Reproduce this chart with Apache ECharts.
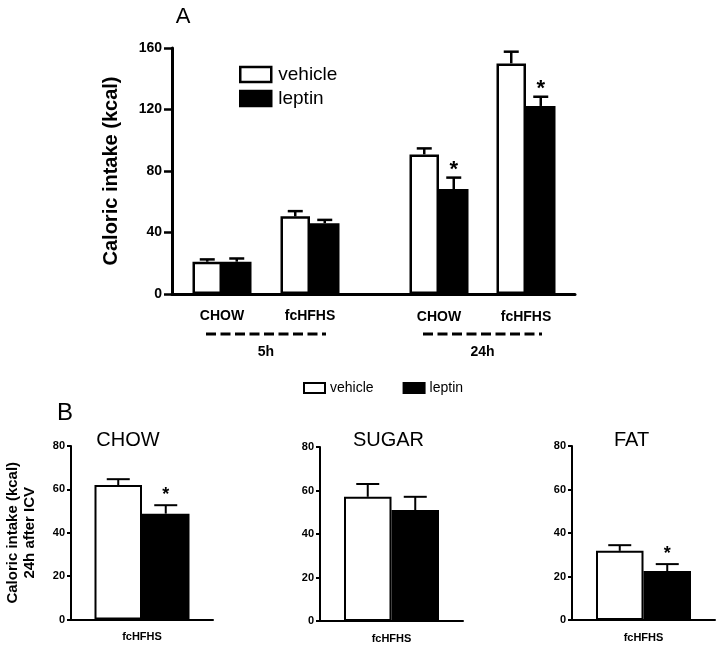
<!DOCTYPE html>
<html>
<head>
<meta charset="utf-8">
<script src="https://cdn.jsdelivr.net/npm/echarts@6/dist/echarts.min.js"></script>
<style>
html,body{margin:0;padding:0;background:#fff;}
#chart{width:720px;height:647px;}
</style>
</head>
<body>
<div id="chart"></div>
<script>
// ---------- DATA ----------
// Panel A
const aCategories = ['CHOW', 'fcHFHS'];
const aTimes = ['5h', '24h'];
const aVehicle5h = [21, 50.5];
const aVehicle5hErr = [1.5, 3.4];
const aLeptin5h = [21, 46];
const aLeptin5hErr = [2.1, 2.2];
const aVehicle24h = [90.8, 150];
const aVehicle24hErr = [3.9, 7.6];
const aLeptin24h = [68.3, 122.3];
const aLeptin24hErr = [7.4, 6.0];
const aLeptin5hSig = [false, false];
const aLeptin24hSig = [true, true];
const aYTicks = [0, 40, 80, 120, 160];
// Panel B
const bPanels = ['CHOW', 'SUGAR', 'FAT'];
const bCategories = ['fcHFHS'];
const bVehicle = [62, 57.1, 31.8];
const bVehicleErr = [2.7, 5.9, 2.6];
const bLeptin = [48.8, 51, 22.5];
const bLeptinErr = [3.9, 6.1, 3.2];
const bLeptinSig = [true, false, true];
const bYTicks = [0, 20, 40, 60, 80];

// ---------- RENDER ----------
const FONT = '"Liberation Sans", Arial, sans-serif';
const chart = echarts.init(document.getElementById('chart'), null, {renderer: 'canvas'});

function errRender(barW, capW, lw, side, starFont, starGap) {
  return function (params, api) {
    const idx = api.value(0), mean = api.value(1), err = api.value(2), sig = api.value(3);
    const top = api.coord([idx, mean + err]);
    const base = api.coord([idx, mean]);
    const x = top[0] + side * barW / 2;
    const children = [
      {type: 'line', shape: {x1: x, y1: base[1], x2: x, y2: top[1]}, style: {stroke: '#000', lineWidth: lw}},
      {type: 'line', shape: {x1: x - capW / 2, y1: top[1], x2: x + capW / 2, y2: top[1]}, style: {stroke: '#000', lineWidth: lw}}
    ];
    if (sig) {
      children.push({type: 'text', style: {text: '*', x: x, y: top[1] - starGap, align: 'center', verticalAlign: 'middle', font: starFont, fill: '#000'}});
    }
    return {type: 'group', children: children};
  };
}
function errData(means, errs, sigs) {
  return means.map((m, i) => [i, m, errs[i], sigs ? (sigs[i] ? 1 : 0) : 0]);
}

const grids = [
  {left: 172, top: 48, width: 403, height: 246},   // A axes frame
  {left: 178, top: 48, width: 176, height: 246},   // A 5h
  {left: 395.5, top: 48, width: 174, height: 246}, // A 24h
  {left: 71, top: 446, width: 142, height: 173.5},
  {left: 320, top: 447, width: 143, height: 174},
  {left: 572, top: 446, width: 143, height: 174}
];

const xAxes = [
  {gridIndex: 0, type: 'category', data: [''], axisLine: {lineStyle: {color: '#000', width: 3}}, axisTick: {show: false}, axisLabel: {show: false}},
  {gridIndex: 1, type: 'category', data: aCategories, axisLine: {show: false}, axisTick: {show: false},
    axisLabel: {fontFamily: FONT, fontWeight: 'bold', fontSize: 14, color: '#000', margin: 15}},
  {gridIndex: 2, type: 'category', data: aCategories, axisLine: {show: false}, axisTick: {show: false},
    axisLabel: {fontFamily: FONT, fontWeight: 'bold', fontSize: 14, color: '#000', margin: 16}}
];
const yAxes = [
  {gridIndex: 0, type: 'value', min: aYTicks[0], max: aYTicks[aYTicks.length - 1], interval: aYTicks[1] - aYTicks[0],
    splitLine: {show: false},
    axisLine: {show: true, lineStyle: {color: '#000', width: 3}},
    axisTick: {show: true, length: 8, lineStyle: {color: '#000', width: 2.5}},
    axisLabel: {fontFamily: FONT, fontWeight: 'bold', fontSize: 14, color: '#000', margin: 10},
    name: 'Caloric intake (kcal)', nameLocation: 'middle', nameGap: 51,
    nameTextStyle: {fontFamily: FONT, fontWeight: 'bold', fontSize: 20, color: '#000'}},
  {gridIndex: 1, type: 'value', min: 0, max: 160, show: false},
  {gridIndex: 2, type: 'value', min: 0, max: 160, show: false}
];

for (let p = 0; p < 3; p++) {
  xAxes.push({gridIndex: 3 + p, type: 'category', data: bCategories,
    axisLine: {lineStyle: {color: '#000', width: 2}}, axisTick: {show: false},
    axisLabel: {fontFamily: FONT, fontWeight: 'bold', fontSize: 11, color: '#000', margin: 12}});
  const y = {gridIndex: 3 + p, type: 'value', min: bYTicks[0], max: bYTicks[bYTicks.length - 1], interval: bYTicks[1] - bYTicks[0],
    splitLine: {show: false},
    axisLine: {show: true, lineStyle: {color: '#000', width: 2}},
    axisTick: {show: true, length: 4, lineStyle: {color: '#000', width: 2}},
    axisLabel: {fontFamily: FONT, fontWeight: 'bold', fontSize: 11, color: '#000', margin: 6}};
  if (p === 0) {
    y.name = 'Caloric intake (kcal)\n24h after ICV';
    y.nameLocation = 'middle';
    y.nameGap = 33;
    y.nameTextStyle = {fontFamily: FONT, fontWeight: 'bold', fontSize: 15, color: '#000', lineHeight: 17};
  }
  yAxes.push(y);
}

const A_BW = 29.5, B_BW = 47.5;
const whiteStyleA = {color: '#fff', borderColor: '#000', borderWidth: 2.5};
const blackStyleA = {color: '#000', borderColor: '#000', borderWidth: 2.5};
const whiteStyleB = {color: '#fff', borderColor: '#000', borderWidth: 2};
const blackStyleB = {color: '#000', borderColor: '#000', borderWidth: 2};

const series = [];
[[1, aVehicle5h, aVehicle5hErr, aLeptin5h, aLeptin5hErr, aLeptin5hSig],
 [2, aVehicle24h, aVehicle24hErr, aLeptin24h, aLeptin24hErr, aLeptin24hSig]].forEach(g => {
  const ax = g[0];
  series.push({type: 'bar', name: 'vehicle', xAxisIndex: ax, yAxisIndex: ax, data: g[1], barWidth: A_BW, barGap: '0%', itemStyle: whiteStyleA, z: 2});
  series.push({type: 'bar', name: 'leptin', xAxisIndex: ax, yAxisIndex: ax, data: g[3], barWidth: A_BW, barGap: '0%', itemStyle: blackStyleA, z: 2});
  series.push({type: 'custom', xAxisIndex: ax, yAxisIndex: ax, data: errData(g[1], g[2], null),
    renderItem: errRender(A_BW, 15, 2.5, -1, 'bold 22px ' + FONT, 10), z: 3, silent: true});
  series.push({type: 'custom', xAxisIndex: ax, yAxisIndex: ax, data: errData(g[3], g[4], g[5]),
    renderItem: errRender(A_BW, 15, 2.5, 1, 'bold 22px ' + FONT, 8), z: 3, silent: true});
});
for (let p = 0; p < 3; p++) {
  const ax = 3 + p;
  series.push({type: 'bar', name: 'vehicle', xAxisIndex: ax, yAxisIndex: ax, data: [bVehicle[p]], barWidth: B_BW, barGap: '0%', itemStyle: whiteStyleB, z: 2});
  series.push({type: 'bar', name: 'leptin', xAxisIndex: ax, yAxisIndex: ax, data: [bLeptin[p]], barWidth: B_BW, barGap: '0%', itemStyle: blackStyleB, z: 2});
  series.push({type: 'custom', xAxisIndex: ax, yAxisIndex: ax, data: [[0, bVehicle[p], bVehicleErr[p], 0]],
    renderItem: errRender(B_BW, 23, 2, -1, 'bold 18px ' + FONT, 10), z: 3, silent: true});
  series.push({type: 'custom', xAxisIndex: ax, yAxisIndex: ax, data: [[0, bLeptin[p], bLeptinErr[p], bLeptinSig[p] ? 1 : 0]],
    renderItem: errRender(B_BW, 23, 2, 1, 'bold 18px ' + FONT, 10), z: 3, silent: true});
}

const option = {
  animation: false,
  backgroundColor: '#fff',
  grid: grids,
  xAxis: xAxes,
  yAxis: yAxes,
  legend: [
    {data: ['vehicle', 'leptin'], orient: 'vertical', left: 239, top: 65, padding: 0, itemWidth: 31, itemHeight: 15, itemGap: 5,
      icon: 'rect', itemStyle: {borderColor: '#000', borderWidth: 2.5},
      textStyle: {fontFamily: FONT, fontSize: 19, color: '#000', padding: [0, 0, 0, 2]}, selectedMode: false},
    {data: ['vehicle', 'leptin'], orient: 'horizontal', left: 303, top: 381, padding: 0, itemWidth: 21, itemHeight: 10, itemGap: 29,
      icon: 'rect', itemStyle: {borderColor: '#000', borderWidth: 2},
      textStyle: {fontFamily: FONT, fontSize: 14, color: '#000'}, selectedMode: false}
  ],
  series: series
};
chart.setOption(option);

// ---------- decorations derived from axes ----------
const graphics = [
  {type: 'text', style: {text: 'A', x: 183, y: 17, align: 'center', verticalAlign: 'middle', font: '22px ' + FONT, fill: '#000'}},
  {type: 'text', style: {text: 'B', x: 65, y: 413, align: 'center', verticalAlign: 'middle', font: '24px ' + FONT, fill: '#000'}}
];
// group brackets for time points
[1, 2].forEach((ax, k) => {
  const c0 = chart.convertToPixel({xAxisIndex: ax}, aCategories[0]);
  const c1 = chart.convertToPixel({xAxisIndex: ax}, aCategories[1]);
  const x1 = c0 - 16, x2 = c1 + 16;
  const yL = 334;
  graphics.push({type: 'line', shape: {x1: x1, y1: yL, x2: x2, y2: yL}, style: {stroke: '#000', lineWidth: 3, lineDash: [10, 4.5]}});
  graphics.push({type: 'text', style: {text: aTimes[k], x: (x1 + x2) / 2, y: 352, align: 'center', verticalAlign: 'middle', font: 'bold 14px ' + FONT, fill: '#000'}});
});
// panel B titles (placed relative to each panel's plot centre)
const titleShift = [-14, -3, -12];
bPanels.forEach((t, p) => {
  const g = chart.getModel().getComponent('grid', 3 + p).coordinateSystem.getRect();
  graphics.push({type: 'text', style: {text: t, x: g.x + g.width / 2 + titleShift[p], y: 440, align: 'center', verticalAlign: 'middle', font: '20px ' + FONT, fill: '#000'}});
});
chart.setOption({graphic: graphics});
</script>
</body>
</html>
